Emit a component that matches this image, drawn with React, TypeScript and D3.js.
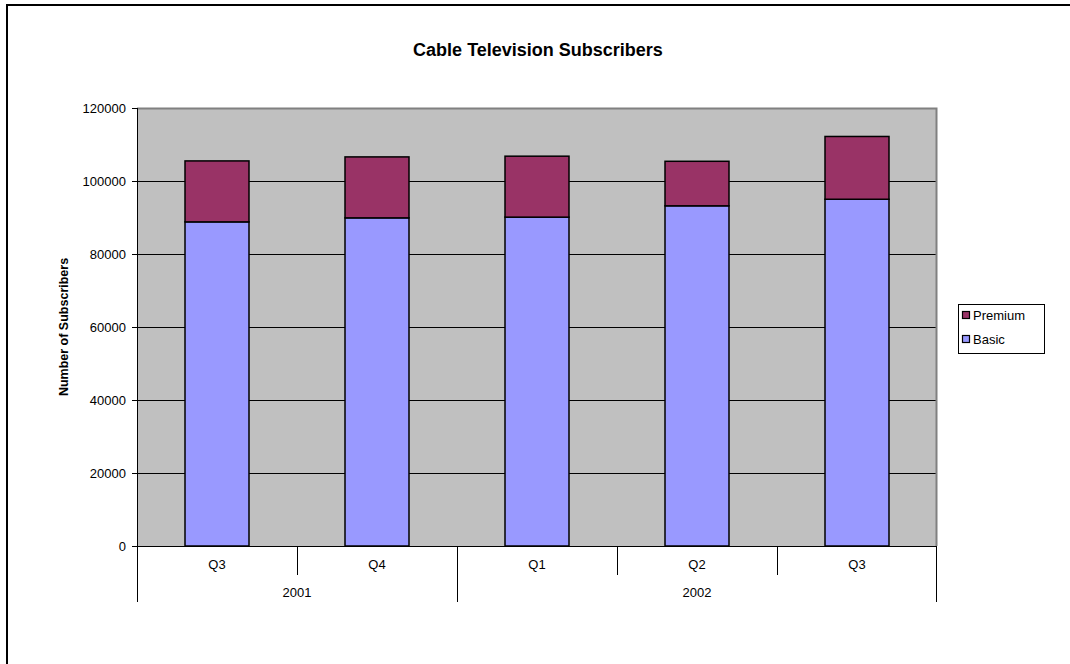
import React from "react";
import * as d3 from "d3";

const quarters = ["Q3", "Q4", "Q1", "Q2", "Q3"];
const yearLabels = ["2001", "2002"];
const yearSpans = [2, 3];
const basic = [88800, 89900, 90100, 93200, 95000];
const premium = [16700, 16700, 16700, 12200, 17200];
const yTicks = [0, 20000, 40000, 60000, 80000, 100000, 120000];
const seriesNames = ["Premium", "Basic"];

const W = 1070;
const H = 664;
const plotL = 137, plotR = 937, plotT = 108, plotB = 546;
const FONT = "'Liberation Sans', Arial, sans-serif";
const BASIC_C = "#9999FF";
const PREM_C = "#993366";

export default function App() {
  const idx = quarters.map((_, i) => i);
  const x = d3.scaleBand<number>().domain(idx).range([plotL, plotR]).paddingInner(0.6).paddingOuter(0.3);
  const cat = d3.scaleBand<number>().domain(idx).range([plotL, plotR]).padding(0);
  const y = d3.scaleLinear().domain([0, 120000]).range([plotB, plotT]);

  const yearBounds: { label: string; start: number; end: number }[] = [];
  const yearStartIdx = new Set<number>();
  let acc = 0;
  yearLabels.forEach((lab, i) => {
    const s = acc;
    yearStartIdx.add(s);
    acc += yearSpans[i];
    yearBounds.push({ label: lab, start: cat(s)!, end: cat(acc - 1)! + cat.bandwidth() });
  });

  return (
    <svg width={W} height={H} style={{ position: "fixed", left: 0, top: 0, background: "#fff" }} fontFamily={FONT}>
      <rect x={7} y={5} width={W} height={H} fill="#fff" stroke="#000" strokeWidth={2} />
      <text x={538} y={56} textAnchor="middle" fontSize={18} fontWeight="bold">Cable Television Subscribers</text>

      {/* plot area */}
      <rect x={plotL} y={plotT} width={plotR - plotL} height={plotB - plotT} fill="#C0C0C0" />
      {yTicks.filter((t) => t > 0 && t < 120000).map((t) => (
        <line key={t} x1={plotL} x2={plotR} y1={Math.round(y(t)) + 0.5} y2={Math.round(y(t)) + 0.5} stroke="#000" strokeWidth={1} />
      ))}
      <path d={`M${plotL},${plotT + 0.5}H${plotR - 0.5}V${plotB}`} fill="none" stroke="#808080" strokeWidth={2} />

      {/* bars */}
      {idx.map((i) => {
        const bx = x(i)!;
        const bw = x.bandwidth();
        const yb = y(basic[i]);
        const yp = y(basic[i] + premium[i]);
        return (
          <g key={i}>
            <rect x={bx} y={yb} width={bw} height={y(0) - yb} fill={BASIC_C} stroke="#000" strokeWidth={1.5} />
            <rect x={bx} y={yp} width={bw} height={yb - yp} fill={PREM_C} stroke="#000" strokeWidth={1.5} />
          </g>
        );
      })}

      {/* y axis */}
      <line x1={plotL + 0.5} x2={plotL + 0.5} y1={plotT} y2={plotB} stroke="#000" />
      {yTicks.map((t) => (
        <g key={t}>
          <line x1={plotL - 5} x2={plotL} y1={Math.round(y(t)) + 0.5} y2={Math.round(y(t)) + 0.5} stroke="#000" />
          <text x={plotL - 11} y={y(t)} dy="0.35em" textAnchor="end" fontSize={13}>{t}</text>
        </g>
      ))}
      <text transform={`translate(68,${(plotT + plotB) / 2}) rotate(-90)`} textAnchor="middle" fontSize={12.5} fontWeight="bold">Number of Subscribers</text>

      {/* x axis */}
      <line x1={plotL} x2={plotR} y1={plotB + 0.5} y2={plotB + 0.5} stroke="#000" />
      {idx.map((i) => {
        const left = cat(i)!;
        const isYearStart = yearStartIdx.has(i);
        return (
          <g key={i}>
            <line x1={left + 0.5} x2={left + 0.5} y1={plotB} y2={isYearStart ? 602 : 575} stroke="#000" />
            <text x={left + cat.bandwidth() / 2} y={564} dy="0.35em" textAnchor="middle" fontSize={13}>{quarters[i]}</text>
          </g>
        );
      })}
      <line x1={plotR - 0.5} x2={plotR - 0.5} y1={plotB} y2={602} stroke="#000" />
      {yearBounds.map((b) => (
        <text key={b.label} x={(b.start + b.end) / 2} y={592} dy="0.35em" textAnchor="middle" fontSize={13}>{b.label}</text>
      ))}

      {/* legend */}
      <rect x={958.5} y={304.5} width={86} height={49} fill="#fff" stroke="#000" />
      {seriesNames.map((s, i) => (
        <g key={s}>
          <rect x={962.5} y={311.5 + i * 24} width={7} height={7} fill={s === "Premium" ? PREM_C : BASIC_C} stroke="#000" strokeWidth={1.2} />
          <text x={973} y={315 + i * 24} dy="0.35em" fontSize={13}>{s}</text>
        </g>
      ))}
    </svg>
  );
}
